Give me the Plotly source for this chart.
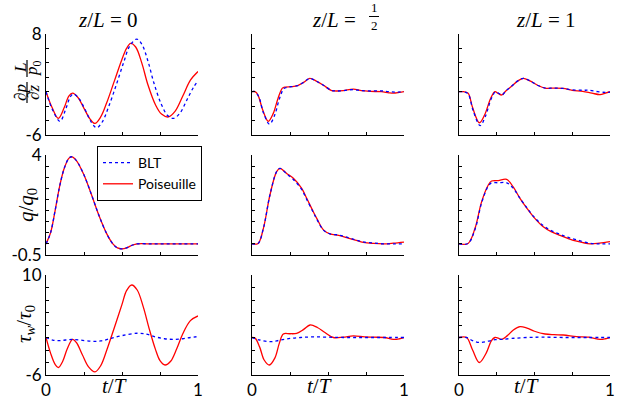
import plotly.graph_objects as go

W, H = 627, 401

# ---------------- data ----------------
# Row 1: pressure gradient (dp/dz * L/p0)
t_p0_pois = [0, 0.04, 0.081, 0.12, 0.15, 0.175, 0.21, 0.25, 0.29, 0.322, 0.36, 0.40, 0.45, 0.50, 0.53, 0.557, 0.59, 0.63, 0.67, 0.72, 0.76, 0.805, 0.85, 0.90, 0.95, 1.0]
p0_pois = [0.0, -2.2, -3.7, -2.2, -0.6, -0.2, -0.8, -2.3, -3.8, -4.4, -3.5, -1.5, 1.5, 4.5, 6.0, 6.7, 6.2, 4.0, 1.0, -1.8, -3.1, -3.5, -2.7, -0.6, 1.6, 2.8]
t_p0_blt = [0, 0.045, 0.092, 0.13, 0.16, 0.18, 0.215, 0.26, 0.30, 0.333, 0.37, 0.41, 0.46, 0.51, 0.55, 0.597, 0.63, 0.67, 0.71, 0.76, 0.80, 0.838, 0.88, 0.93, 0.97, 1.0]
p0_blt = [0.0, -2.6, -4.1, -2.4, -0.7, -0.3, -0.9, -2.6, -4.3, -5.0, -4.2, -2.2, 0.8, 4.0, 6.3, 7.3, 6.6, 4.3, 1.2, -1.8, -3.3, -3.7, -3.0, -1.0, 0.6, 1.5]

t_ph_pois = [0, 0.02, 0.04, 0.07, 0.107, 0.14, 0.17, 0.2, 0.22, 0.26, 0.3, 0.34, 0.38, 0.42, 0.47, 0.52, 0.55, 0.6, 0.667, 0.72, 0.78, 0.85, 0.9, 0.93, 0.97, 1.0]
ph_pois = [0.0, 0.0, -0.5, -2.5, -4.1, -3.0, -1.0, 0.5, 0.65, 0.7, 0.85, 1.3, 1.85, 1.5, 0.9, 0.2, 0.1, 0.15, 0.35, 0.15, 0.05, 0.0, -0.15, -0.2, -0.1, 0.0]
t_ph_blt = [0, 0.02, 0.045, 0.075, 0.115, 0.15, 0.18, 0.21, 0.23, 0.26, 0.3, 0.34, 0.38, 0.42, 0.47, 0.52, 0.55, 0.6, 0.667, 0.72, 0.78, 0.85, 0.9, 0.95, 1.0]
ph_blt = [0.0, 0.0, -0.7, -2.9, -4.5, -3.2, -1.0, 0.45, 0.6, 0.7, 0.85, 1.3, 1.85, 1.5, 0.9, 0.2, 0.1, 0.15, 0.3, 0.15, 0.1, 0.12, 0.0, -0.05, 0.0]

t_p1_pois = [0, 0.03, 0.06, 0.09, 0.135, 0.17, 0.21, 0.238, 0.26, 0.283, 0.31, 0.35, 0.39, 0.426, 0.47, 0.52, 0.57, 0.63, 0.69, 0.75, 0.82, 0.88, 0.934, 0.97, 1.0]
p1_pois = [0.0, 0.0, -0.2, -2.2, -4.3, -3.2, -0.9, 0.0, -0.25, -0.45, 0.1, 0.8, 1.5, 1.86, 1.5, 0.9, 0.5, 0.5, 0.45, 0.2, 0.05, -0.2, -0.4, -0.2, 0.0]
t_p1_blt = [0, 0.03, 0.06, 0.095, 0.14, 0.175, 0.215, 0.243, 0.265, 0.285, 0.31, 0.35, 0.39, 0.426, 0.47, 0.52, 0.57, 0.63, 0.69, 0.75, 0.82, 0.86, 0.92, 0.97, 1.0]
p1_blt = [0.0, 0.0, -0.3, -2.7, -4.7, -3.4, -0.9, 0.0, -0.25, -0.45, 0.1, 0.8, 1.5, 1.86, 1.5, 0.9, 0.5, 0.5, 0.45, 0.25, 0.2, 0.2, 0.0, -0.1, -0.05]

# Row 2: flow rate (q/q0)
t_q0 = [0, 0.03, 0.06, 0.09, 0.12, 0.15, 0.17, 0.2, 0.25, 0.3, 0.35, 0.4, 0.44, 0.47, 0.5, 0.53, 0.57, 0.6, 0.7, 0.8, 0.9, 1.0]
q0_pois = [0.0, 0.5, 1.5, 2.6, 3.4, 3.85, 3.92, 3.75, 3.1, 2.2, 1.25, 0.45, 0.0, -0.18, -0.22, -0.18, -0.05, 0.0, 0.0, 0.0, 0.0, 0.0]
q0_blt = [0.0, 0.5, 1.5, 2.6, 3.4, 3.85, 3.92, 3.75, 3.1, 2.2, 1.25, 0.45, 0.0, -0.18, -0.22, -0.18, -0.05, 0.0, 0.0, 0.0, 0.0, 0.0]

t_qh = [0, 0.04, 0.075, 0.118, 0.162, 0.184, 0.228, 0.272, 0.327, 0.36, 0.403, 0.426, 0.47, 0.513, 0.57, 0.623, 0.68, 0.732, 0.8, 0.864, 0.93, 1.0]
qh_pois = [0.0, 0.02, 0.7, 2.2, 3.25, 3.4, 3.17, 2.95, 2.5, 2.05, 1.45, 1.15, 0.63, 0.45, 0.38, 0.28, 0.17, 0.07, 0.02, 0.0, 0.03, 0.08]
qh_blt = [0.0, 0.02, 0.7, 2.2, 3.25, 3.4, 3.15, 2.9, 2.45, 2.0, 1.42, 1.12, 0.62, 0.45, 0.4, 0.3, 0.18, 0.09, 0.04, 0.0, 0.0, 0.0]

t_q1 = [0, 0.06, 0.106, 0.15, 0.194, 0.216, 0.26, 0.316, 0.36, 0.404, 0.45, 0.492, 0.558, 0.61, 0.669, 0.72, 0.779, 0.868, 0.93, 1.0]
q1_pois = [0.0, 0.02, 0.7, 1.9, 2.65, 2.83, 2.85, 2.9, 2.55, 2.05, 1.6, 1.23, 0.77, 0.55, 0.38, 0.25, 0.12, 0.0, 0.03, 0.1]
q1_blt = [0.0, 0.02, 0.65, 1.85, 2.6, 2.75, 2.75, 2.75, 2.5, 2.05, 1.62, 1.25, 0.82, 0.6, 0.43, 0.3, 0.18, 0.03, 0.0, 0.0]

# Row 3: wall shear stress (tau_w/tau0)
t_w0_pois = [0, 0.03, 0.06, 0.081, 0.11, 0.14, 0.175, 0.2, 0.24, 0.28, 0.322, 0.36, 0.4, 0.45, 0.5, 0.53, 0.564, 0.6, 0.64, 0.68, 0.72, 0.75, 0.783, 0.82, 0.86, 0.9, 0.95, 1.0]
w0_pois = [0.0, -2.5, -4.3, -4.8, -3.8, -1.8, -0.3, -0.8, -2.8, -4.7, -5.5, -4.5, -2.0, 1.6, 5.3, 7.5, 8.4, 7.6, 4.9, 1.3, -1.9, -3.7, -4.4, -3.8, -1.8, 0.6, 2.7, 3.45]
t_w0_blt = [0, 0.05, 0.09, 0.13, 0.17, 0.22, 0.3, 0.36, 0.42, 0.5, 0.6, 0.66, 0.72, 0.78, 0.84, 0.9, 0.95, 1.0]
w0_blt = [0.0, -0.45, -0.5, -0.4, -0.3, -0.4, -0.6, -0.55, -0.2, 0.3, 0.68, 0.55, 0.1, -0.2, -0.3, -0.2, 0.0, 0.15]

t_wh_pois = [0, 0.02, 0.05, 0.08, 0.114, 0.15, 0.18, 0.206, 0.25, 0.294, 0.34, 0.382, 0.43, 0.48, 0.535, 0.6, 0.667, 0.74, 0.8, 0.87, 0.93, 0.97, 1.0]
wh_pois = [0.0, -0.1, -1.5, -3.6, -4.4, -3.3, -0.9, 0.56, 0.6, 0.67, 1.3, 2.0, 1.6, 0.8, 0.0, 0.05, 0.25, 0.1, 0.05, 0.0, -0.3, -0.2, 0.0]
t_wh_blt = [0, 0.05, 0.12, 0.18, 0.25, 0.32, 0.4, 0.5, 0.6, 0.7, 0.8, 0.9, 1.0]
wh_blt = [0.0, -0.4, -0.67, -0.45, -0.15, 0.0, 0.1, 0.05, 0.0, 0.0, 0.0, 0.0, 0.0]

t_w1_pois = [0, 0.05, 0.09, 0.135, 0.18, 0.215, 0.238, 0.26, 0.283, 0.32, 0.36, 0.404, 0.45, 0.5, 0.57, 0.63, 0.69, 0.78, 0.86, 0.934, 0.97, 1.0]
w1_pois = [0.0, 0.0, -2.0, -4.0, -2.5, -0.5, 0.0, -0.1, -0.3, 0.3, 1.2, 1.73, 1.5, 1.0, 0.56, 0.45, 0.4, 0.15, 0.05, -0.3, -0.2, 0.0]
t_w1_blt = [0, 0.05, 0.09, 0.135, 0.19, 0.24, 0.28, 0.35, 0.45, 0.55, 0.7, 0.85, 1.0]
w1_blt = [0.0, 0.0, -0.5, -0.8, -0.6, -0.35, -0.3, -0.15, 0.0, 0.05, 0.0, 0.0, 0.0]

y_ranges = [(-6, 8, 2), (-0.5, 4, 0.5), (-6, 10, 2)]
x_ticks = [0, 0.25, 0.5, 0.75, 1]
x_ticktext = ["0", "", "", "", "1"]

panels = [
    [(t_p0_pois, p0_pois, t_p0_blt, p0_blt), (t_ph_pois, ph_pois, t_ph_blt, ph_blt), (t_p1_pois, p1_pois, t_p1_blt, p1_blt)],
    [(t_q0, q0_pois, t_q0, q0_blt), (t_qh, qh_pois, t_qh, qh_blt), (t_q1, q1_pois, t_q1, q1_blt)],
    [(t_w0_pois, w0_pois, t_w0_blt, w0_blt), (t_wh_pois, wh_pois, t_wh_blt, wh_blt), (t_w1_pois, w1_pois, t_w1_blt, w1_blt)],
]

# ---------------- layout geometry (pixels) ----------------
col_px = [(46, 198), (252, 404), (459, 610)]
row_px = [(34, 135), (155, 255), (275, 375)]

RED = "#ff0000"
BLUE = "#0000ff"
TICKFONT = dict(family="Lato", size=17, color="black")
SERIF = "Liberation Serif"

fig = go.Figure()
layout = dict(
    width=W, height=H, margin=dict(l=0, r=0, t=0, b=0, autoexpand=False),
    paper_bgcolor="white", plot_bgcolor="white",
    showlegend=True,
)

def tick_list(v):
    n = int(round((v[1] - v[0]) / v[2]))
    return [v[0] + i * v[2] for i in range(n + 1)]

def fmt(v):
    return "%g" % v

k = 0
for r in range(3):
    for c in range(3):
        k += 1
        xa = "xaxis" if k == 1 else "xaxis%d" % k
        ya = "yaxis" if k == 1 else "yaxis%d" % k
        xr = "x" if k == 1 else "x%d" % k
        yr = "y" if k == 1 else "y%d" % k
        tp, vp, tb, vb = panels[r][c]
        fig.add_trace(go.Scatter(x=tp, y=vp, mode="lines", line=dict(color=RED, width=1.3, shape="spline"),
                                 name="Poiseuille", legendrank=2, showlegend=(k == 4), xaxis=xr, yaxis=yr, hoverinfo="skip"))
        fig.add_trace(go.Scatter(x=tb, y=vb, mode="lines", line=dict(color=BLUE, width=1.3, dash="dot", shape="spline"),
                                 name="BLT", legendrank=1, showlegend=(k == 4), xaxis=xr, yaxis=yr, hoverinfo="skip"))
        yv = tick_list(y_ranges[r])
        layout[xa] = dict(
            domain=[col_px[c][0] / W, col_px[c][1] / W], range=[0, 1], anchor=yr, automargin=False,
            showline=True, linecolor="black", linewidth=1, mirror=False, showgrid=False, zeroline=False,
            ticks="inside", ticklen=3, tickcolor="black", tickwidth=1,
            tickvals=x_ticks, ticktext=x_ticktext,
            showticklabels=(r == 2), tickfont=TICKFONT,
        )
        layout[ya] = dict(
            domain=[1 - row_px[r][1] / H, 1 - row_px[r][0] / H], range=[y_ranges[r][0], y_ranges[r][1]], anchor=xr,
            automargin=False,
            showline=True, linecolor="black", linewidth=1, showgrid=False, zeroline=False,
            ticks="inside", ticklen=3, tickcolor="black", tickwidth=1,
            tickvals=yv, ticktext=[fmt(yv[0])] + [""] * (len(yv) - 2) + [fmt(yv[-1])],
            showticklabels=(c == 0), tickfont=TICKFONT,
        )

layout["legend"] = dict(
    x=97 / W, y=1 - 146 / H, xanchor="left", yanchor="top",
    bordercolor="black", borderwidth=1, bgcolor="white",
    font=dict(family="Lato", size=14, color="black"),
    tracegroupgap=0, itemwidth=30,
)

ann = []
shapes = []
def A(x, y, text, size=20, angle=0, family=SERIF, xanchor="center"):
    ann.append(dict(x=x / W, y=1 - y / H, xref="paper", yref="paper", text=text, showarrow=False,
                    font=dict(family=family, size=size, color="black"), textangle=angle,
                    xanchor=xanchor, yanchor="middle"))

# column titles
A(108, 20, "<i>z</i>/<i>L</i> = 0", size=21)
A(334, 20, "<i>z</i>/<i>L</i> =", size=21)
A(374, 8, "1", size=13)
A(374, 25, "2", size=13)
shapes.append(dict(type="line", xref="paper", yref="paper", x0=369 / W, x1=379 / W, y0=1 - 16.5 / H, y1=1 - 16.5 / H,
                   line=dict(color="black", width=1)))
A(546, 20, "<i>z</i>/<i>L</i> = 1", size=21)

# row titles
A(20, 68, "<i>L</i>", size=17, angle=-90)
A(33, 68, "<i>p</i><sub>0</sub>", size=17, angle=-90)
shapes.append(dict(type="line", xref="paper", yref="paper", x0=27 / W, x1=27 / W, y0=1 - 60 / H, y1=1 - 77 / H,
                   line=dict(color="black", width=1.2)))
A(20, 93, "∂<i>p</i>", size=17, angle=-90)
A(33, 93, "∂<i>z</i>", size=17, angle=-90)
shapes.append(dict(type="line", xref="paper", yref="paper", x0=27 / W, x1=27 / W, y0=1 - 82 / H, y1=1 - 103 / H,
                   line=dict(color="black", width=1.2)))
A(27, 205, "<i>q</i>/<i>q</i><sub>0</sub>", size=21, angle=-90)
A(25, 324, "<i>τ<sub>w</sub></i>/<i>τ</i><sub>0</sub>", size=21, angle=-90)

# x titles
for xc in (114, 319, 526):
    ann.append(dict(x=xc / W, y=0, xref="paper", yref="paper", text="<i>t</i>/<i>T</i>", showarrow=False,
                    font=dict(family=SERIF, size=21, color="black"), xanchor="center", yanchor="bottom",
                    yshift=1))

layout["annotations"] = ann
layout["shapes"] = shapes
fig.update_layout(**layout)
fig.write_html("out.html", config={"displayModeBar": False},
               post_script="document.body.style.margin='0';document.body.style.padding='0';")
